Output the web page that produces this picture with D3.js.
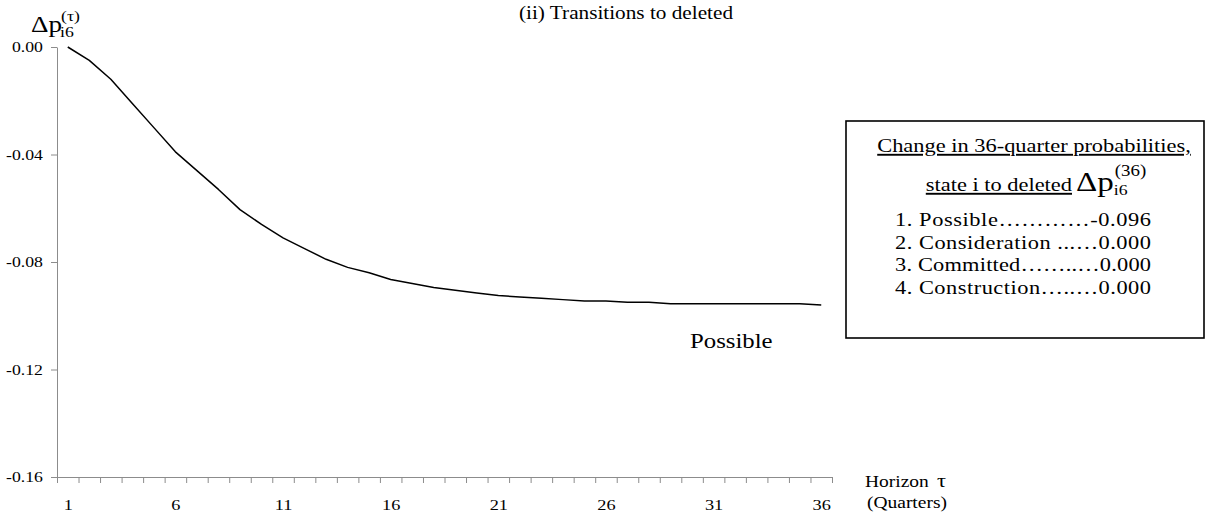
<!DOCTYPE html>
<html>
<head>
<meta charset="utf-8">
<script src="https://cdn.jsdelivr.net/npm/d3@7/dist/d3.min.js"></script>
<style>
  html, body { margin: 0; padding: 0; background: #fff; }
  svg { display: block; font-family: "Liberation Serif", "Times New Roman", serif; }
</style>
</head>
<body>
<svg id="chart" width="1206" height="521"></svg>
<script>
// Horizon in quarters
const horizons = d3.range(1, 37);
// Change in probability of moving from "Possible" to deleted
const possible = [
  0.000, -0.005, -0.012, -0.021, -0.030, -0.039, -0.046, -0.053, -0.0605, -0.066,
  -0.071, -0.075, -0.079, -0.082, -0.084, -0.0865, -0.088, -0.0895, -0.0905, -0.0915,
  -0.0925, -0.093, -0.0935, -0.094, -0.0945, -0.0945, -0.095, -0.095, -0.0955, -0.0955,
  -0.0955, -0.0955, -0.0955, -0.0955, -0.0955, -0.096
];
const yTicks = [0, -0.04, -0.08, -0.12, -0.16];
const xTickLabels = [1, 6, 11, 16, 21, 26, 31, 36];
const legendTitle1 = "Change in 36-quarter probabilities,";
const legendTitle2 = "state i to deleted";
const legendRows = [
  "1. Possible…………-0.096",
  "2. Consideration ...…0.000",
  "3. Committed……..…0.000",
  "4. Construction…..…0.000"
];

const SX = 1.18;          // horizontal text stretch
const AXIS = "#8c8c8c";
const FONT = "Liberation Serif";

const svg = d3.select("#chart");

const x = d3.scaleLinear().domain([0.5, 36.5]).range([57, 832]);
const y = d3.scaleLinear().domain([-0.16, 0]).range([477, 47]);

function txt(g, px, py, str, size, anchor) {
  return g.append("text")
    .attr("transform", `translate(${px},${py}) scale(${SX},1)`)
    .attr("font-family", FONT)
    .attr("font-size", size)
    .attr("text-anchor", anchor || "start")
    .attr("fill", "#000")
    .text(str);
}

// y axis
const yAxis = svg.append("g")
  .attr("transform", `translate(${x.range()[0]},0)`)
  .call(d3.axisLeft(y).tickValues(yTicks).tickFormat(d => d.toFixed(2))
    .tickSize(6).tickSizeOuter(0));
yAxis.select(".domain").attr("stroke", AXIS);
yAxis.selectAll(".tick line").attr("stroke", AXIS);
yAxis.selectAll(".tick text")
  .attr("font-size", 15).attr("font-family", FONT).attr("fill", "#000")
  .attr("transform", `scale(${SX},1)`).attr("x", -12).attr("dy", "0.32em");

// x axis: ticks on category boundaries
const xAxis = svg.append("g")
  .attr("transform", `translate(0,${y(-0.16)})`)
  .call(d3.axisBottom(x).tickValues(d3.range(0.5, 37, 1)).tickFormat("")
    .tickSize(6).tickSizeOuter(0));
xAxis.select(".domain").attr("stroke", AXIS);
xAxis.selectAll(".tick line").attr("stroke", AXIS);

// x labels on category centres
const xLab = svg.append("g")
  .attr("transform", `translate(0,${y(-0.16)})`)
  .call(d3.axisBottom(x).tickValues(xTickLabels).tickFormat(d3.format("d")).tickSize(0));
xLab.select(".domain").remove();
xLab.selectAll(".tick text")
  .attr("font-size", 15.5).attr("font-family", FONT).attr("fill", "#000")
  .attr("y", 33).attr("dy", 0).attr("transform", `scale(${SX},1)`);

// series line
svg.append("path")
  .datum(possible)
  .attr("fill", "none")
  .attr("stroke", "#000")
  .attr("stroke-width", 1.5)
  .attr("stroke-linejoin", "round")
  .attr("d", d3.line().x((d, i) => x(horizons[i])).y(d => y(d)));

// title
txt(svg, 626, 19, "(ii) Transitions to deleted", 18, "middle");

// y axis label Δp_i6^(τ)
txt(svg, 31, 32, "Δp", 23);
txt(svg, 61, 21, "(τ)", 15);
txt(svg, 60, 37, "i6", 15);

// x axis label
txt(svg, 865, 487, "Horizon", 16.5);
txt(svg, 937, 487, "τ", 19);
txt(svg, 867, 508, "(Quarters)", 16.5);

// series label
txt(svg, 690, 348, "Possible", 21);

// legend box
const lg = svg.append("g");
lg.append("rect")
  .attr("x", 846).attr("y", 121).attr("width", 358).attr("height", 217)
  .attr("fill", "#fff").attr("stroke", "#000").attr("stroke-width", 1.6);
txt(lg, 1034, 152, legendTitle1, 19, "middle").attr("text-decoration", "underline");
txt(lg, 1072, 191, legendTitle2, 19, "end").attr("text-decoration", "underline");
const dp = txt(lg, 1076, 191, "Δp", 28);
const dpW = dp.node().getComputedTextLength() * SX;
txt(lg, 1076 + dpW + 1, 176, "(36)", 16);
txt(lg, 1076 + dpW, 195, "i6", 15);
legendRows.forEach((r, i) => {
  txt(lg, 895, 226 + i * 22.7, r, 19)
    .attr("textLength", 256 / SX)
    .attr("lengthAdjust", "spacing");
});
</script>
</body>
</html>
